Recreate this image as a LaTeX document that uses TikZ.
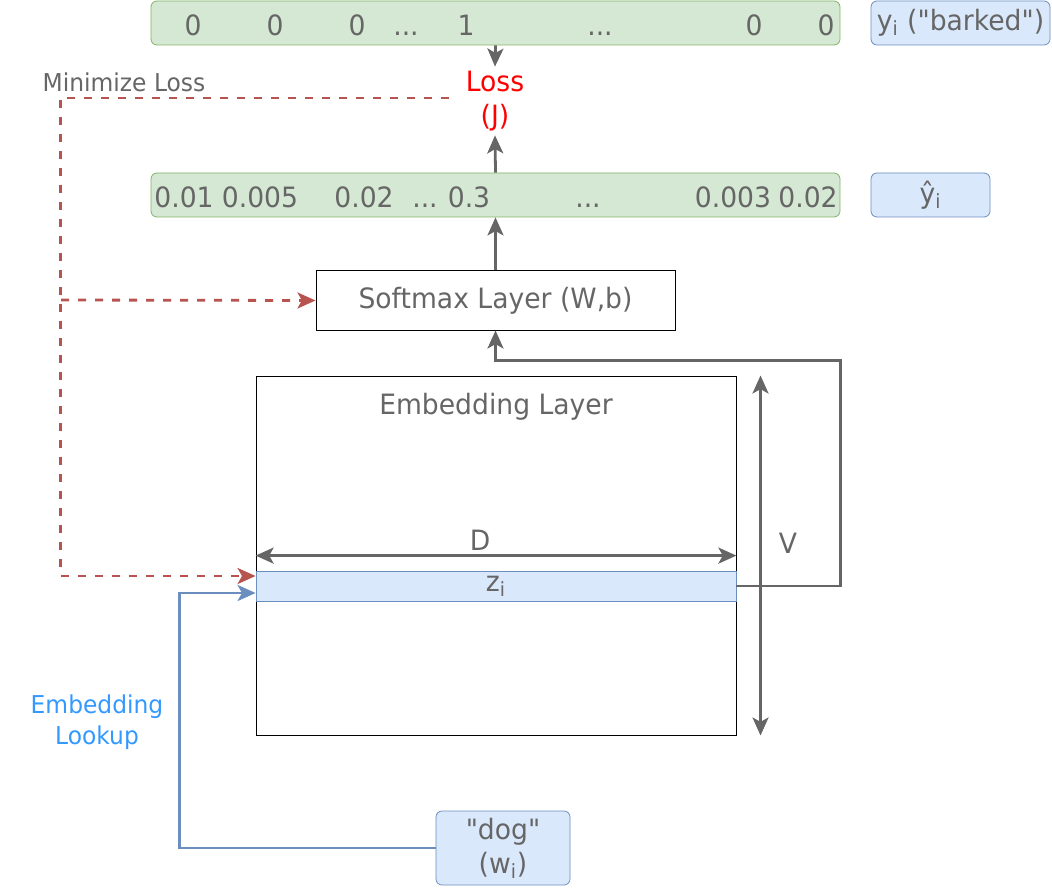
\documentclass[tikz,border=0pt]{standalone}
\usepackage{fontspec}
\setmainfont{DejaVu Sans}[FakeStretch=0.95,Ligatures=TeXOff]
\usetikzlibrary{arrows.meta}
\definecolor{txtgray}{HTML}{666666}
\definecolor{linegray}{HTML}{666666}
\definecolor{greenfill}{HTML}{D5E8D4}
\definecolor{greenline}{HTML}{82B366}
\definecolor{bluefill}{HTML}{DAE8FC}
\definecolor{blueline}{HTML}{6C8EBF}
\definecolor{lossred}{HTML}{B85450}
\definecolor{lookupblue}{HTML}{3399FF}
\newcommand{\skipdots}{...}
\begin{document}
\begin{tikzpicture}[x=0.5pt,y=-0.5pt,font=\fontsize{14}{17}\selectfont,text=txtgray,
  >={Stealth[length=9pt,width=8pt,inset=2.2pt]},
  valbar/.style={draw=greenline,fill=greenfill,rounded corners=3pt,minimum width=344.5pt,minimum height=22pt},
  tagbox/.style={draw=blueline,fill=bluefill,rounded corners=3pt,minimum height=22pt,inner sep=0pt},
  layerbox/.style={draw=black,line width=0.5pt},
  sidelabel/.style={font=\fontsize{12.3}{15.5}\selectfont,align=center},
  flow/.style={draw=linegray,line width=1.4pt,->},
  lossline/.style={draw=lossred,line width=1.4pt,dash pattern=on 4pt off 4.5pt,->},
  lookup/.style={draw=blueline,line width=1.4pt,->}]
\useasboundingbox (0,0) rectangle (1052,887);
% target row
\node[valbar] (target) at (495.5,23) {};
\foreach \x/\t [count=\k] in {193/0,275/0,357/0,406/\skipdots,466/1,600/\skipdots,754/0,826/0}
  \node[anchor=base,inner sep=0pt] (t\k) at (\x,36) {\t};
\node[tagbox,minimum width=89.5pt] (ytag) at (960.5,23) {y\textsubscript{i} ("barked")};
% loss
\node[text=red,align=center,inner xsep=8pt,inner ysep=2pt] (loss) at (495,101) {Loss\\(J)};
\node[sidelabel] (minlabel) at (124,82) {Minimize Loss};
% prediction row
\node[valbar] (pred) at (495.5,195) {};
\foreach \x/\t [count=\k] in {184/0.01,260/0.005,364/0.02,425/\skipdots,469/0.3,588/\skipdots,733/0.003,808/0.02}
  \node[anchor=base,inner sep=0pt] (p\k) at (\x,208) {\t};
\node[tagbox,minimum width=59.5pt] (yhat) at (930.5,195) {ŷ\textsubscript{i}};
% layers
\node[layerbox,minimum width=179.5pt,minimum height=29.5pt] (soft) at (495.5,300.5) {Softmax Layer (W,b)};
\node[layerbox,minimum width=240pt,minimum height=179.5pt] (emb) at (496,555.5) {};
\node (emblabel) at (496,407) {Embedding Layer};
\node[draw=blueline,fill=bluefill,minimum width=240pt,minimum height=15pt,inner sep=0pt] (zi) at (496,586) {z\textsubscript{i}};
\node (dlabel) at (480,540) {D};
\node (vlabel) at (788,543) {V};
\node[tagbox,minimum width=67pt,minimum height=37pt,align=center] (dog) at (503,848) {"dog"\\(w\textsubscript{i})};
\node[sidelabel,text=lookupblue] (lookuplabel) at (97,722) {Embedding\\Lookup};
% connectors
\draw[flow] (target.south) -- (loss.north);
\draw[flow] (pred.north) -- (loss.south);
\draw[flow] (soft.north) -- (pred.south);
\draw[flow] (zi.east) -- ++(104,0) |- ([yshift=-15pt]soft.south) -- (soft.south);
\draw[flow,<->] ([yshift=7.5pt]zi.north west) -- ([yshift=7.5pt]zi.north east);
\draw[flow,<->] ([xshift=12pt]emb.north east) -- ([xshift=12pt]emb.south east);
\coordinate (branch) at (61,300);
\draw[lossline] ([yshift=1.5pt]loss.west) -| ([xshift=-97.5pt,yshift=5pt]zi.west) -- ([yshift=5pt]zi.west);
\draw[lossline] (branch) -- (soft.west);
\draw[lookup] (dog.west) -| ([xshift=-38pt,yshift=-3.5pt]zi.west) -- ([yshift=-3.5pt]zi.west);
\end{tikzpicture}
\end{document}
